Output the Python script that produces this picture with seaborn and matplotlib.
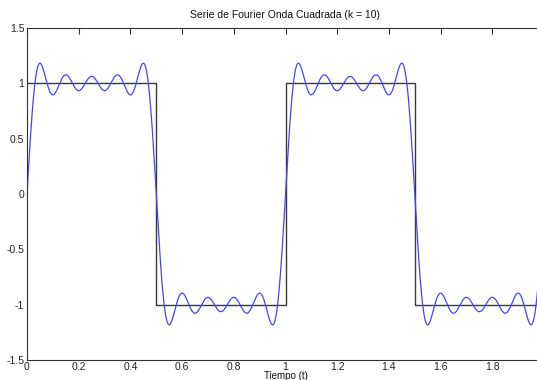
import numpy as np
import pandas as pd
import matplotlib
matplotlib.use("Agg")
import matplotlib.pyplot as plt
import seaborn as sns

# Fourier series of the square wave (k = 10 -> odd harmonics 1..9)
harmonics = [1, 3, 5, 7, 9]
coefficients = [1.2732, 0.4244, 0.2546, 0.1819, 0.1415]
period = 1.0

# Ideal square wave (step levels)
step_times = [0.0, 0.5, 1.0, 1.5, 2.0]
step_levels = [1, -1, 1, -1, -1]

t = np.arange(0, 2.0 + 1e-9, 0.001)
y = np.zeros_like(t)
for n, b in zip(harmonics, coefficients):
    y += b * np.sin(2 * np.pi * n * t / period)

curve = pd.DataFrame({"t": t, "y": y})
square = pd.DataFrame({"t": step_times, "y": step_levels})

sns.set_style("white")
plt.rcParams["font.family"] = ["Liberation Sans", "DejaVu Sans"]

fig = plt.figure(figsize=(5.37, 3.80), dpi=100)
ax = fig.add_axes([27 / 537, 1 - 360 / 380, (544 - 27) / 537, (360 - 28) / 380])

sns.lineplot(data=square, x="t", y="y", ax=ax, color="#383838", lw=1.0,
             drawstyle="steps-post", estimator=None, sort=False)
sns.lineplot(data=curve, x="t", y="y", ax=ax, color="#4444ff", lw=0.9,
             estimator=None, sort=False)

ax.set_xlim(0, 2)
ax.set_ylim(-1.5, 1.5)
ax.set_xticks([0, 0.2, 0.4, 0.6, 0.8, 1, 1.2, 1.4, 1.6, 1.8])
ax.set_xticklabels(["0", "0.2", "0.4", "0.6", "0.8", "1", "1.2", "1.4", "1.6", "1.8"])
ax.set_yticks([-1.5, -1, -0.5, 0, 0.5, 1, 1.5])
ax.set_yticklabels(["-1.5", "-1", "-0.5", "0", "0.5", "1", "1.5"])
ax.tick_params(direction="in", length=4, width=0.8, colors="#333333",
               labelsize=7.5, top=True, right=True, pad=2, labelcolor="#222222")
ax.tick_params(axis="x", pad=1.2)
for s in ax.spines.values():
    s.set_color("#333333")
    s.set_linewidth(0.8)

ax.set_title("Serie de Fourier Onda Cuadrada (k = 10)", fontsize=7.5, pad=7, color="#111111")
ax.set_xlabel("Tiempo (t)", fontsize=7, labelpad=-0.3, color="#111111")
ax.set_ylabel("")

fig.savefig("out.png", dpi=100)
